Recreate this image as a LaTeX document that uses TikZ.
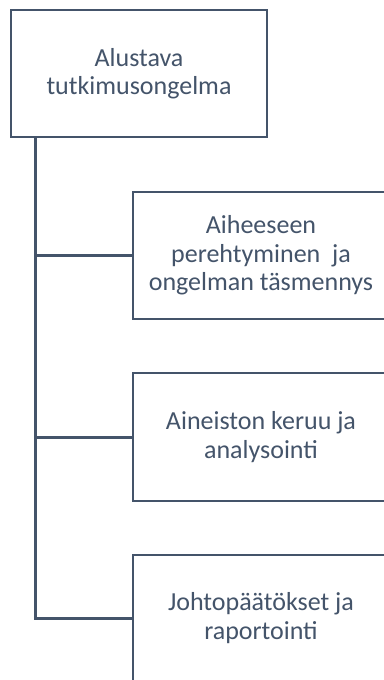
\documentclass[tikz,border=0pt]{standalone}
\usepackage{fontspec}
\setmainfont{Carlito}
\definecolor{slate}{HTML}{44546A}
\begin{document}
\begin{tikzpicture}[x=1pt,y=1pt,
  box/.style={draw=slate, line width=2.4pt, fill=white, text=slate, align=center,
    minimum width=256pt, inner sep=0pt, font=\fontsize{26}{28.5}\selectfont},
  conn/.style={draw=slate, line width=3pt}]
\useasboundingbox (0,0) rectangle (383,-680);
\node[box, minimum height=127pt] (top) at (139,-73.5) {Alustava\\tutkimusongelma};
\node[box, minimum height=127pt] (c1) at (261,-255.5) {Aiheeseen\\perehtyminen\ \ ja\\ongelman täsmennys};
\node[box, minimum height=128pt] (c2) at (261,-437) {Aineiston keruu ja\\analysointi};
\node[box, minimum height=126pt] (c3) at (261,-618) {Johtopäätökset ja\\raportointi};
\coordinate (t) at ([xshift=26pt]top.south west);
\draw[conn] (t) |- (c3.west);
\draw[conn] (c1.west) -| (t);
\draw[conn] (c2.west) -| (t);
\end{tikzpicture}
\end{document}
